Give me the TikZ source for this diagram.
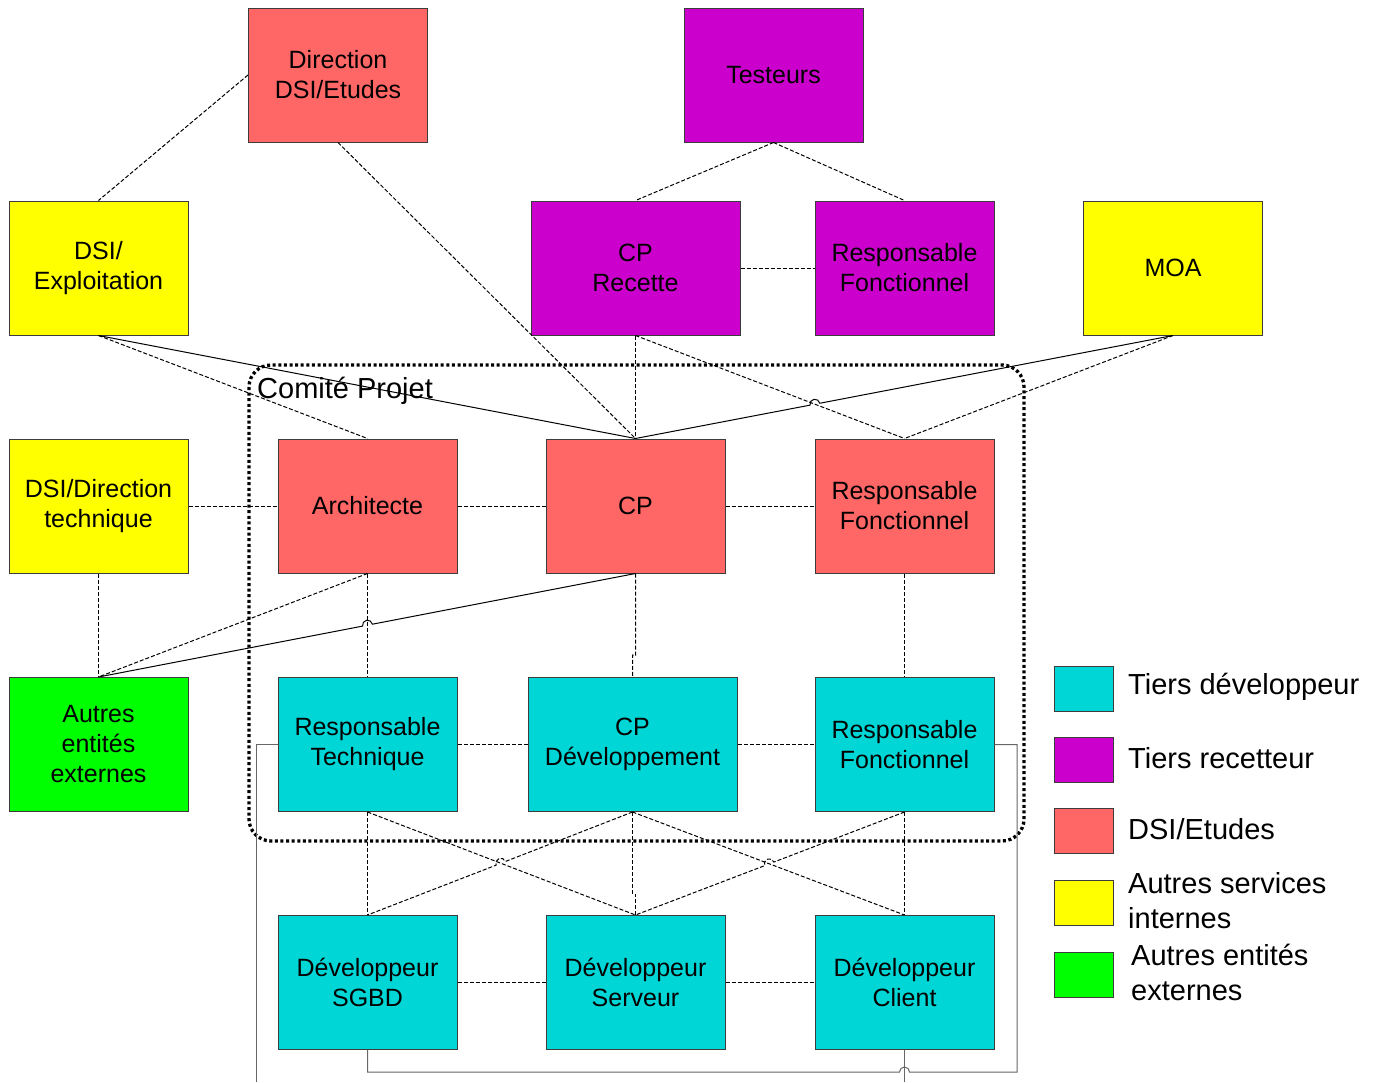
\documentclass[tikz,border=0pt]{standalone}
\usepackage{fontspec}
\setmainfont{Liberation Sans}
\usetikzlibrary{calc}
\definecolor{cred}{RGB}{255,102,102}
\definecolor{cpurple}{RGB}{204,0,204}
\definecolor{cyellow}{RGB}{255,255,0}
\definecolor{cgreen}{RGB}{0,255,0}
\definecolor{cteal}{RGB}{0,214,214}
\definecolor{cborder}{RGB}{60,60,60}
\tikzset{
 box/.style={draw=cborder, line width=1pt, minimum width=179pt, minimum height=134pt, align=center, font=\fontsize{25}{30}\selectfont, inner sep=0pt},
 wide/.style={minimum width=209pt},
 link/.style={draw=black, line width=1pt, dash pattern=on 4pt off 2pt},
 solidlink/.style={draw=black, line width=1pt},
 greylink/.style={draw=black!60, line width=1pt},
 comite/.style={draw=black, line width=3.3pt, dash pattern=on 3pt off 2.6pt, rounded corners=22pt},
 legbox/.style={draw=cborder, line width=1pt, minimum width=59pt, minimum height=45pt, inner sep=0pt},
 legtext/.style={anchor=west, align=left, font=\fontsize{29}{35}\selectfont, inner sep=0pt},
}
\begin{document}
\begin{tikzpicture}[x=1pt,y=1pt]
\useasboundingbox (0,0) rectangle (1381,-1082);
% nodes
\node[box, fill=cred] (DIR) at (338,-75) {Direction\\DSI/Etudes};
\node[box, fill=cpurple] (TEST) at (773.5,-75) {Testeurs};
\node[box, fill=cyellow] (EXP) at (98.5,-268) {DSI/\\Exploitation};
\node[box, wide, fill=cpurple] (CPR) at (635.5,-268) {CP\\Recette};
\node[box, fill=cpurple] (RFp) at (904.5,-268) {Responsable\\Fonctionnel};
\node[box, fill=cyellow] (MOA) at (1173,-268) {MOA};
\node[box, fill=cyellow] (DT) at (98.5,-506) {DSI/Direction\\technique};
\node[box, fill=cred] (ARCH) at (367.5,-506) {Architecte};
\node[box, fill=cred] (CP) at (635.5,-506) {CP};
\node[box, fill=cred] (RFr) at (904.5,-506) {Responsable\\Fonctionnel};
\node[box, fill=cgreen] (AE) at (98.5,-744.5) {Autres\\entités\\externes};
\node[box, fill=cteal] (RT) at (367.5,-744.5) {Responsable\\Technique};
\node[box, wide, fill=cteal] (CPD) at (632.5,-744.5) {CP\\Développement};
\node[box, fill=cteal] (RFt) at (904.5,-744.5) {Responsable\\Fonctionnel};
\node[box, fill=cteal] (SGBD) at (367.5,-982.5) {Développeur\\SGBD};
\node[box, fill=cteal] (DS) at (635.5,-982.5) {Développeur\\Serveur};
\node[box, fill=cteal] (DC) at (904.5,-982.5) {Développeur\\Client};
% comite projet
\draw[comite] (249,-365) rectangle (1024,-841);
% dashed links
\draw[link] (DIR.west) -- (EXP.north);
\draw[link] (DIR.south) -- (CP.north);
\draw[link] (TEST.south) -- (CPR.north);
\draw[link] (TEST.south) -- (RFp.north);
\draw[link] (CPR.east) -- (RFp.west);
\draw[link] (EXP.south) -- (ARCH.north);
\draw[link] (CPR.south) -- (CP.north);
\draw[link] (CPR.south) -- (RFr.north);
\draw[link] (MOA.south) -- (RFr.north);
\draw[link] (DT.east) -- (ARCH.west);
\draw[link] (ARCH.east) -- (CP.west);
\draw[link] (CP.east) -- (RFr.west);
\draw[link] (DT.south) -- (AE.north);
\draw[link] (ARCH.south) -- (AE.north);
\draw[link] (ARCH.south) -- (RT.north);
\draw[link] (CP.south) -- ($(CP.south)+(0,-82)$) -- ($(CPD.north)+(0,22)$) -- (CPD.north);
\draw[link] (RFr.south) -- (RFt.north);
\draw[link] (RT.east) -- (CPD.west);
\draw[link] (CPD.east) -- (RFt.west);
\draw[link] (RT.south) -- (SGBD.north);
\draw[link] (RT.south) -- (DS.north);
\draw[link] (CPD.south) -- ($(CPD.south)+(0,-82)$) -- ($(DS.north)+(0,21)$) -- (DS.north);
\draw[link] (CPD.south) -- (DC.north);
\draw[link] (RFt.south) -- (DC.north);
\draw[link] (SGBD.east) -- (DS.west);
\draw[link] (DS.east) -- (DC.west);
% crossing points
\coordinate (J1) at (intersection of MOA.south--CP.north and CPR.south--RFr.north);
\coordinate (J2) at (intersection of CP.south--AE.north and ARCH.south--RT.north);
\coordinate (J3) at (intersection of CPD.south--SGBD.north and RT.south--DS.north);
\coordinate (J4) at (intersection of RFt.south--DS.north and CPD.south--DC.north);
% links with jumps
\draw[link] (CPD.south) -- ($(J3)!5pt!(CPD.south)$) arc[start angle=21.6, delta angle=180, radius=5pt] -- (SGBD.north);
\draw[link] (RFt.south) -- ($(J4)!5pt!(RFt.south)$) arc[start angle=21.3, delta angle=180, radius=5pt] -- (DS.north);
% solid links
\draw[solidlink] (EXP.south) -- (CP.north);
\draw[solidlink] (MOA.south) -- ($(J1)!5pt!(MOA.south)$) arc[start angle=10.96, delta angle=180, radius=5pt] -- (CP.north);
\draw[solidlink] (CP.south) -- ($(J2)!5pt!(CP.south)$) arc[start angle=11.06, delta angle=180, radius=5pt] -- (AE.north);
% grey links
\coordinate (gl1) at (256,-744.5);
\coordinate (gl2) at (256,-1082);
\coordinate (gr1) at (1017,-744.5);
\coordinate (gr2) at (1017,-1072);
\coordinate (j5) at (DC.south |- gr2);
\coordinate (gb) at (DC.south |- gl2);
\draw[greylink] (RT.west) -- (gl1) -- (gl2);
\draw[greylink] (RFt.east) -- (gr1) -- (gr2) -- ($(j5)+(5,0)$) arc[start angle=0, delta angle=180, radius=5pt] -- (SGBD.south |- gr2) -- (SGBD.south);
\draw[greylink] (DC.south) -- (gb);
% label
\node[anchor=west, inner sep=0pt, font=\fontsize{29}{35}\selectfont] (CPL) at (257,-391) {Comité Projet};
% legend
\node[legbox, fill=cteal] (L1) at (1083.5,-688.5) {};
\node[legbox, fill=cpurple] (L2) at (1083.5,-760) {};
\node[legbox, fill=cred] (L3) at (1083.5,-831) {};
\node[legbox, fill=cyellow] (L4) at (1083.5,-902.5) {};
\node[legbox, fill=cgreen] (L5) at (1083.5,-974.5) {};
\node[legtext] (T1) at (1128,-687) {Tiers développeur};
\node[legtext] (T2) at (1128,-758) {Tiers recetteur};
\node[legtext] (T3) at (1128,-829) {DSI/Etudes};
\node[legtext] (T4) at (1128,-900.5) {Autres services\\internes};
\node[legtext] (T5) at (1131,-972) {Autres entités\\externes};
\end{tikzpicture}
\end{document}
